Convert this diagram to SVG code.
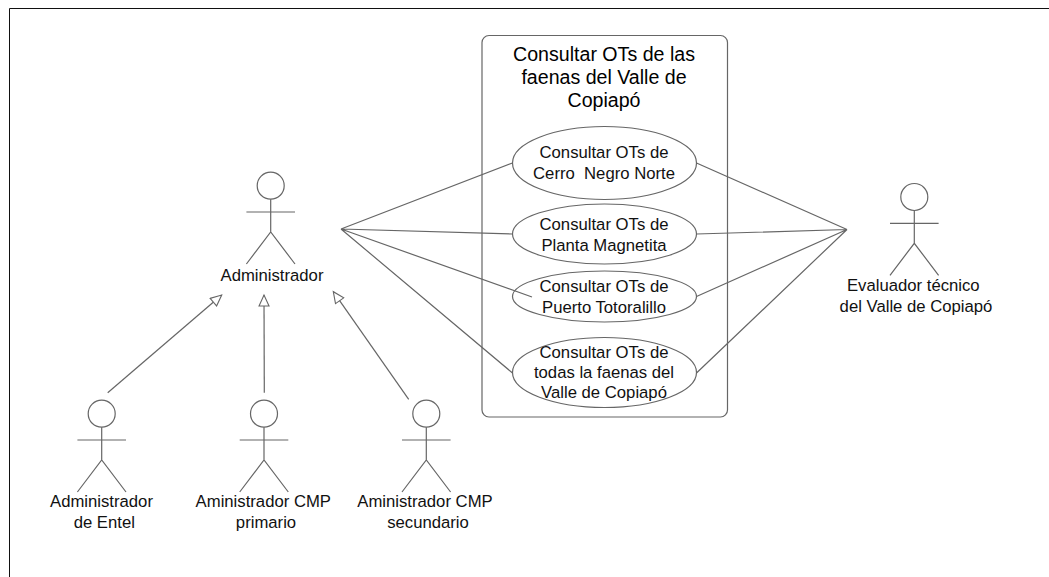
<svg xmlns="http://www.w3.org/2000/svg" width="1049" height="577" viewBox="0 0 1049 577">
<style>
.l{fill:none;stroke:#666;stroke-width:1.2}
.t{font-family:"Liberation Sans",Arial,sans-serif;font-size:16.7px;fill:#111;text-anchor:middle;white-space:pre}
.h{font-size:19.6px;fill:#000}
</style>
<defs>
<marker id="g" markerUnits="userSpaceOnUse" markerWidth="14" markerHeight="14" refX="12" refY="6" orient="auto"><path d="M1 1 L12 6 L1 11 Z" fill="#fff" stroke="#666" stroke-width="1.1"/></marker>
<g id="stick"><circle cx="0" cy="0" r="13.5" class="l"/><path class="l" d="M0 13.5V46.3M-24.3 26.3H24.3M-24.3 78.3L0 46.3L24.3 78.3"/></g>
</defs>
<rect width="1049" height="577" fill="#fff"/>
<path d="M9.5 577V8.5H1049" fill="none" stroke="#111" stroke-width="1"/>
<g id="system"><rect class="l" x="482" y="35.5" width="245.500" height="381.500" rx="7"/>
<text class="t h" x="604" y="60.500">Consultar OTs de las</text><text class="t h" x="604" y="83.500">faenas del Valle de</text><text class="t h" x="604" y="106.500">Copiapó</text></g>
<g id="connectors">
<path class="l" d="M341 229L512.500 163M341 229L512.500 234M341 229L532 297M341 229L512.500 373M847 229.500L696.500 163M847 229.500L696.500 234M847 229.500L696.500 296.500M847 229.500L696.500 373"/>
<path class="l" marker-end="url(#g)" d="M107.700 392.700L221.700 295"/>
<path class="l" marker-end="url(#g)" d="M264.300 392.700L264 295"/>
<path class="l" marker-end="url(#g)" d="M408.700 399.300L333.300 291.700"/>
</g>
<g id="uc1"><ellipse class="l" cx="604.500" cy="163" rx="92" ry="36.500"/><text class="t" x="604" y="158.300">Consultar OTs de</text><text class="t" x="604" y="179">Cerro  Negro Norte</text></g>
<g id="uc2"><ellipse class="l" cx="604.500" cy="234" rx="92" ry="30"/><text class="t" x="604" y="230">Consultar OTs de</text><text class="t" x="604" y="250.700">Planta Magnetita</text></g>
<g id="uc3"><ellipse class="l" cx="604.500" cy="296.500" rx="92" ry="25.500"/><text class="t" x="604" y="292.300">Consultar OTs de</text><text class="t" x="604" y="312.700">Puerto Totoralillo</text></g>
<g id="uc4"><ellipse class="l" cx="604.500" cy="372.500" rx="92" ry="35"/><text class="t" x="604" y="358.300">Consultar OTs de</text><text class="t" x="604" y="378.300">todas la faenas del</text><text class="t" x="604" y="398.300">Valle de Copiapó</text></g>
<g id="admin"><use href="#stick" x="270.700" y="185.700"/><text class="t" x="272" y="281">Administrador</text></g>
<g id="a1"><use href="#stick" x="101.700" y="413.700"/><text class="t" x="101.500" y="507.300">Administrador</text><text class="t" x="104.300" y="527.500">de Entel</text></g>
<g id="a2"><use href="#stick" x="264" y="413.700"/><text class="t" x="263.300" y="507.300">Aministrador CMP</text><text class="t" x="266" y="527.500">primario</text></g>
<g id="a3"><use href="#stick" x="426.300" y="413.700"/><text class="t" x="425" y="507.300">Aministrador CMP</text><text class="t" x="428" y="527.500">secundario</text></g>
<g id="eval"><use href="#stick" x="914.300" y="197"/><text class="t" x="913.300" y="291">Evaluador técnico</text><text class="t" x="916" y="311.700">del Valle de Copiapó</text></g>
</svg>
